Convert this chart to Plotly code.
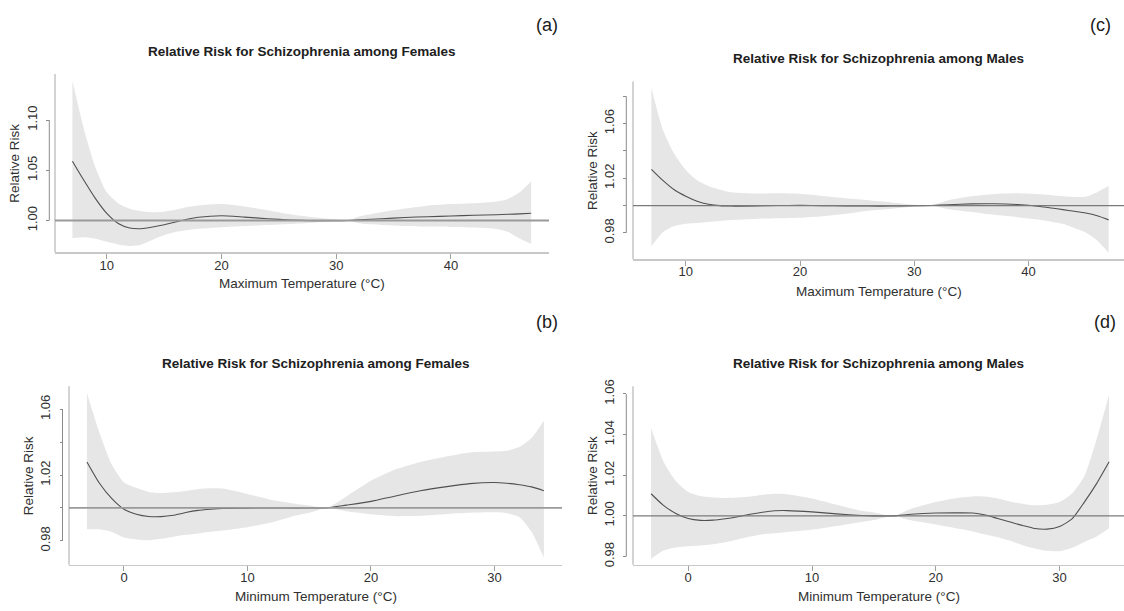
import plotly.graph_objects as go

# ---------------- data ----------------
# (a) Females, maximum temperature
x_a = [7, 8, 9, 10, 11, 12, 13, 14, 15, 16, 17, 18, 20, 22, 24, 26, 28, 30, 31, 32,
       34, 36, 38, 40, 42, 44, 45, 46, 47]
rr_a = [1.059, 1.040, 1.022, 1.007, 0.997, 0.9925, 0.9918, 0.9935, 0.9958, 0.9985, 1.0012,
        1.0033, 1.0048, 1.0034, 1.0018, 1.0005, 0.9998, 0.9998, 1.0, 1.0006, 1.0018, 1.003,
        1.0038, 1.0045, 1.0052, 1.0058, 1.0062, 1.0066, 1.0072]
up_a = [1.139, 1.091, 1.053, 1.028, 1.017, 1.0118, 1.0093, 1.0083, 1.0088, 1.0107, 1.0135,
        1.015, 1.0163, 1.014, 1.0103, 1.0062, 1.0032, 1.001, 1.0, 1.004, 1.0085, 1.012,
        1.0148, 1.0163, 1.0172, 1.019, 1.0215, 1.028, 1.039]
lo_a = [0.9827, 0.9833, 0.9818, 0.9788, 0.9762, 0.9747, 0.976, 0.9808, 0.9855, 0.9885, 0.9905,
        0.9918, 0.9933, 0.9945, 0.9955, 0.9965, 0.9978, 0.9992, 1.0, 0.9972, 0.9956, 0.9946,
        0.994, 0.9936, 0.993, 0.9915, 0.9885, 0.982, 0.9765]

# (c) Males, maximum temperature
x_c = [7, 8, 9, 10, 11, 12, 13, 14, 16, 18, 20, 22, 24, 26, 28, 30, 31.5, 33, 35, 37, 39,
       41, 42, 43, 44, 45, 46, 47]
rr_c = [1.0265, 1.0184, 1.0115, 1.0068, 1.0032, 1.001, 0.9999, 0.9996, 0.9997, 1.0, 1.0001,
        0.9999, 0.9997, 0.9996, 0.9996, 0.9998, 1.0, 1.0006, 1.0012, 1.0013, 1.0007, 0.9993,
        0.9982, 0.997, 0.9958, 0.9945, 0.9925, 0.9895]
up_c = [1.086, 1.0555, 1.0378, 1.026, 1.0185, 1.0143, 1.0116, 1.0097, 1.0088, 1.009, 1.0086,
        1.007, 1.0053, 1.0038, 1.0023, 1.0006, 1.0, 1.0038, 1.0067, 1.0084, 1.0089, 1.0082,
        1.0076, 1.0068, 1.0063, 1.0065, 1.0098, 1.0143]
lo_c = [0.9703, 0.9805, 0.985, 0.9867, 0.9873, 0.988, 0.9887, 0.9894, 0.9902, 0.9907, 0.9911,
        0.9922, 0.994, 0.9962, 0.9977, 0.9993, 1.0, 0.9973, 0.9953, 0.9932, 0.9915, 0.9896,
        0.9882, 0.9866, 0.9835, 0.9803, 0.9745, 0.9655]

# (b) Females, minimum temperature
x_b = [-3, -2, -1, 0, 1, 2, 3, 4, 5, 6, 7, 8, 10, 12, 14, 15, 16.4, 18, 20, 22, 24, 26, 28,
       30, 31, 32, 33, 34]
rr_b = [1.028, 1.0152, 1.0058, 0.9992, 0.9962, 0.9948, 0.9947, 0.9955, 0.9972, 0.9985, 0.9992,
        0.9997, 0.9999, 1.0, 0.9999, 1.0, 1.0, 1.0017, 1.004, 1.0073, 1.0104, 1.0128, 1.0148,
        1.0155, 1.015, 1.0141, 1.0128, 1.0105]
up_b = [1.070, 1.046, 1.0265, 1.0155, 1.0122, 1.0097, 1.009, 1.0095, 1.0103, 1.0115, 1.012,
        1.0118, 1.0085, 1.0048, 1.0024, 1.0014, 1.0, 1.007, 1.0165, 1.0235, 1.028, 1.0312,
        1.0338, 1.0343, 1.0348, 1.037, 1.0425, 1.053]
lo_b = [0.987, 0.987, 0.9855, 0.982, 0.9808, 0.9803, 0.9812, 0.9825, 0.9836, 0.9845, 0.9855,
        0.9863, 0.9883, 0.9912, 0.9955, 0.997, 1.0, 0.998, 0.9962, 0.995, 0.9952, 0.9962,
        0.997, 0.9973, 0.9968, 0.9945, 0.9855, 0.9697]

# (d) Males, minimum temperature
x_d = [-3, -2, -1, 0, 1, 2, 3, 4, 5, 6, 7, 8, 10, 12, 14, 15, 16.6, 18, 20, 22, 23, 24, 25,
       26, 27, 28, 29, 30, 31, 32, 33, 34]
rr_d = [1.0109, 1.0052, 1.0012, 0.9987, 0.9978, 0.9979, 0.9986, 0.9996, 1.0008, 1.0018, 1.0025,
        1.0026, 1.002, 1.001, 1.0002, 1.0, 1.0, 1.0008, 1.0014, 1.0015, 1.0014, 1.0004, 0.9987,
        0.997, 0.9953, 0.9938, 0.9935, 0.9948, 0.9985, 1.0068, 1.016, 1.0266]
up_d = [1.0432, 1.0268, 1.0172, 1.0118, 1.0098, 1.0091, 1.0088, 1.009, 1.0095, 1.0104, 1.0109,
        1.0107, 1.0086, 1.0055, 1.0025, 1.0017, 1.0, 1.0035, 1.0068, 1.009, 1.0096, 1.0095,
        1.0085, 1.007, 1.006, 1.0052, 1.0055, 1.0068, 1.011, 1.0195, 1.038, 1.0597]
lo_d = [0.9789, 0.983, 0.9845, 0.9851, 0.9854, 0.986, 0.987, 0.9884, 0.9898, 0.991, 0.9915,
        0.9921, 0.9932, 0.995, 0.997, 0.998, 1.0, 0.9978, 0.9958, 0.9935, 0.9923, 0.9908,
        0.9895, 0.9878, 0.9856, 0.984, 0.9828, 0.9826, 0.9843, 0.9872, 0.9899, 0.9939]

# tick values / labels
xt_max = [10, 20, 30, 40]
xt_min = [0, 10, 20, 30]
yt_a = [1.00, 1.05, 1.10]
yl_a = ["1.00", "1.05", "1.10"]
yt_c = [0.98, 1.00, 1.02, 1.04, 1.06, 1.08]
yl_c = ["0.98", "", "1.02", "", "1.06", ""]
yt_b = [0.98, 1.00, 1.02, 1.04, 1.06]
yl_b = ["0.98", "", "1.02", "", "1.06"]
yt_d = [0.98, 1.00, 1.02, 1.04, 1.06]
yl_d = ["0.98", "1.00", "1.02", "1.04", "1.06"]

title_f = "Relative Risk for Schizophrenia among Females"
title_m = "Relative Risk for Schizophrenia among Males"
xlab_max = "Maximum Temperature (°C)"
xlab_min = "Minimum Temperature (°C)"
ylab = "Relative Risk"
ref_rr = 1.0

# ---------------- layout geometry (pixels) ----------------
W, H = 1124, 611
FONT = "Liberation Sans, Arial, sans-serif"
BAND = "#e6e6e6"
CURVE = "#505050"
FRAME = "#c8c8c8"


def fx(px):
    return px / W


def fy(px):
    return 1 - px / H


panels = [
    dict(x=x_a, rr=rr_a, up=up_a, lo=lo_a, xt=xt_max, yt=yt_a, yl=yl_a,
         title=title_f, xlab=xlab_max, tag="(a)",
         xdom=(55, 549), ydom=(68, 249), xr=(5.484, 48.553), yr=(0.96833, 1.14578),
         spine=49.3, title_y=45.0, xlab_y=281.0, ylab_x=14.5, tag_xy=(547, 18.3),
         refw=1.8, refc="#9a9a9a"),
    dict(x=x_c, rr=rr_c, up=up_c, lo=lo_c, xt=xt_max, yt=yt_c, yl=yl_c,
         title=title_m, xlab=xlab_max, tag="(c)",
         xdom=(633, 1124), ydom=(75.7, 256), xr=(5.389, 48.346), yr=(0.96072, 1.09067),
         spine=626.3, title_y=52.0, xlab_y=288.3, ylab_x=592.5, tag_xy=(1100, 18.3),
         refw=1.2, refc="#7a7a7a"),
    dict(x=x_b, rr=rr_b, up=up_b, lo=lo_b, xt=xt_min, yt=yt_b, yl=yl_b,
         title=title_f, xlab=xlab_min, tag="(b)",
         xdom=(69, 562), ydom=(385, 566), xr=(-4.453, 35.466), yr=(0.96546, 1.0740),
         spine=62.5, title_y=361.5, xlab_y=598.0, ylab_x=28.7, tag_xy=(547, 320),
         refw=1.8, refc="#9a9a9a"),
    dict(x=x_d, rr=rr_d, up=up_d, lo=lo_d, xt=xt_min, yt=yt_d, yl=yl_d,
         title=title_m, xlab=xlab_min, tag="(d)",
         xdom=(633, 1124), ydom=(385, 566), xr=(-4.459, 35.202), yr=(0.976, 1.06376),
         spine=626.3, title_y=361.5, xlab_y=598.0, ylab_x=592.5, tag_xy=(1105, 320),
         refw=1.2, refc="#7a7a7a"),
]

fig = go.Figure()
shapes = []
annotations = []
layout_axes = {}

for i, p in enumerate(panels, start=1):
    sfx = "" if i == 1 else str(i)
    xref, yref = "x" + sfx, "y" + sfx
    # confidence band
    fig.add_trace(go.Scatter(x=p["x"], y=p["lo"], mode="lines",
                             line=dict(width=0, shape="spline", smoothing=0.6),
                             xaxis=xref, yaxis=yref, hoverinfo="skip", showlegend=False))
    fig.add_trace(go.Scatter(x=p["x"], y=p["up"], mode="lines",
                             line=dict(width=0, shape="spline", smoothing=0.6),
                             fill="tonexty", fillcolor=BAND,
                             xaxis=xref, yaxis=yref, hoverinfo="skip", showlegend=False))
    # relative risk curve
    fig.add_trace(go.Scatter(x=p["x"], y=p["rr"], mode="lines",
                             line=dict(color=CURVE, width=1.1, shape="spline", smoothing=0.6),
                             xaxis=xref, yaxis=yref, showlegend=False))

    xd0, xd1 = fx(p["xdom"][0]), fx(p["xdom"][1])
    yd0, yd1 = fy(p["ydom"][1]), fy(p["ydom"][0])
    layout_axes["xaxis" + sfx] = dict(
        domain=[xd0, xd1], range=list(p["xr"]), anchor=yref,
        showline=True, linecolor=FRAME, linewidth=1.6, mirror=False,
        ticks="outside", ticklen=5, tickwidth=1, tickcolor="#a0a0a0",
        ticklabelstandoff=-5,
        tickvals=p["xt"], ticktext=[str(v) for v in p["xt"]],
        tickfont=dict(family=FONT, size=13, color="#303030"),
        showgrid=False, zeroline=False, fixedrange=True)
    layout_axes["yaxis" + sfx] = dict(
        domain=[yd0, yd1], range=list(p["yr"]), anchor="free", position=fx(p["spine"]),
        showline=False, ticks="outside", ticklen=3, tickwidth=1, tickcolor="#8a8a8a",
        ticklabelstandoff=4,
        tickvals=p["yt"], ticktext=p["yl"], tickangle=-90,
        tickfont=dict(family=FONT, size=13, color="#303030"),
        showgrid=False, zeroline=False, fixedrange=True)

    # left frame line (L-shaped box)
    shapes.append(dict(type="line", xref=xref + " domain", yref=yref + " domain",
                       x0=0, x1=0, y0=0, y1=1, line=dict(color=FRAME, width=1.6), layer="above"))
    # y axis spine between first and last tick
    shapes.append(dict(type="line", xref="paper", yref=yref,
                       x0=fx(p["spine"]), x1=fx(p["spine"]), y0=p["yt"][0], y1=p["yt"][-1],
                       line=dict(color="#8a8a8a", width=1), layer="above"))
    # reference line RR = 1
    shapes.append(dict(type="line", xref=xref + " domain", yref=yref,
                       x0=0, x1=1, y0=ref_rr, y1=ref_rr,
                       line=dict(color=p["refc"], width=p["refw"]), layer="above"))

    cx = (p["xdom"][0] + min(p["xdom"][1], p["xdom"][0] + 494)) / 2
    annotations.append(dict(text="<b>" + p["title"] + "</b>", xref="paper", yref="paper",
                            x=fx(cx), y=fy(p["title_y"]), xanchor="center", yanchor="middle",
                            showarrow=False, font=dict(family=FONT, size=13.5, color="#202020")))
    annotations.append(dict(text=p["xlab"], xref="paper", yref="paper",
                            x=fx(cx), y=fy(p["xlab_y"]), xanchor="center", yanchor="middle",
                            showarrow=False, font=dict(family=FONT, size=13.5, color="#303030")))
    annotations.append(dict(text=ylab, xref="paper", yref="paper", textangle=-90,
                            x=fx(p["ylab_x"]), y=fy((p["ydom"][0] + p["ydom"][1]) / 2),
                            xanchor="center", yanchor="middle",
                            showarrow=False, font=dict(family=FONT, size=13.5, color="#303030")))
    annotations.append(dict(text=p["tag"], xref="paper", yref="paper",
                            x=fx(p["tag_xy"][0]), y=fy(p["tag_xy"][1]), xanchor="center", yanchor="middle",
                            showarrow=False, font=dict(family=FONT, size=18, color="#202020")))

fig.update_layout(
    width=W, height=H, margin=dict(l=0, r=0, t=0, b=0),
    paper_bgcolor="white", plot_bgcolor="white",
    shapes=shapes, annotations=annotations, showlegend=False,
    font=dict(family=FONT),
    **layout_axes)

# remove the browser's default 8px body margin so the figure sits at (0, 0)
fig.write_html("out.html", config={"displayModeBar": False, "staticPlot": True},
               post_script="document.body.style.margin='0';document.body.style.overflow='hidden';")
